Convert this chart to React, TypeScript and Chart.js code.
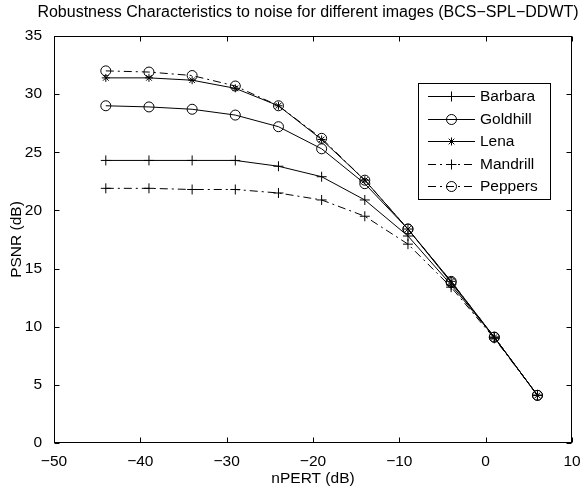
import React, { useEffect, useRef } from "react";
import { Chart, registerables } from "chart.js";

Chart.register(...registerables);

const X_VALUES = [-44, -39, -34, -29, -24, -19, -14, -9, -4, 1, 6];
const SERIES_NAMES = ["Barbara", "Goldhill", "Lena", "Mandrill", "Peppers"];
const BARBARA = [24.3, 24.3, 24.3, 24.3, 23.8, 22.9, 20.9, 17.8, 13.6, 9.1, 4.1];
const GOLDHILL = [29.0, 28.9, 28.7, 28.2, 27.2, 25.3, 22.3, 18.4, 13.8, 9.1, 4.1];
const LENA = [31.4, 31.4, 31.2, 30.5, 29.0, 26.1, 22.6, 18.4, 13.9, 9.1, 4.1];
const MANDRILL = [21.9, 21.9, 21.8, 21.8, 21.5, 20.9, 19.5, 17.1, 13.4, 9.0, 4.1];
const PEPPERS = [32.0, 31.9, 31.6, 30.7, 29.0, 26.2, 22.6, 18.4, 13.9, 9.1, 4.1];
const X_TICKS = [-50, -40, -30, -20, -10, 0, 10];
const Y_TICKS = [0, 5, 10, 15, 20, 25, 30, 35];

const TITLE = "Robustness Characteristics to noise for different images (BCS\u2212SPL\u2212DDWT)";
const X_TITLE = "nPERT (dB)";
const Y_TITLE = "PSNR (dB)";

const FONT_FAMILY = "'Liberation Sans', Arial, Helvetica, sans-serif";
const FONT_SIZE = 15.5;
const TITLE_SIZE = 16;
const DASH_DOT = [8, 4, 2, 4];

const STYLES = [
  { marker: "cross", radius: 5, dash: [] as number[] },
  { marker: "circle", radius: 5, dash: [] as number[] },
  { marker: "star", radius: 4, dash: [] as number[] },
  { marker: "cross", radius: 5, dash: DASH_DOT },
  { marker: "circle", radius: 5, dash: DASH_DOT },
];

const SERIES = [BARBARA, GOLDHILL, LENA, MANDRILL, PEPPERS];

function drawMarker(ctx: CanvasRenderingContext2D, style: string, x: number, y: number, r: number) {
  ctx.beginPath();
  if (style === "circle") {
    ctx.arc(x, y, r, 0, Math.PI * 2);
  } else if (style === "cross") {
    ctx.moveTo(x - r, y);
    ctx.lineTo(x + r, y);
    ctx.moveTo(x, y - r);
    ctx.lineTo(x, y + r);
  } else if (style === "star") {
    ctx.moveTo(x - r, y);
    ctx.lineTo(x + r, y);
    ctx.moveTo(x, y - r);
    ctx.lineTo(x, y + r);
    const d = r * Math.SQRT1_2;
    ctx.moveTo(x - d, y - d);
    ctx.lineTo(x + d, y + d);
    ctx.moveTo(x - d, y + d);
    ctx.lineTo(x + d, y - d);
  }
  ctx.stroke();
}

const framePlugin = {
  id: "matlabFrame",
  afterDraw(chart: any) {
    const ctx: CanvasRenderingContext2D = chart.ctx;
    const a = chart.chartArea;
    const xs = chart.scales.x;
    const ys = chart.scales.y;
    ctx.save();
    ctx.strokeStyle = "#000";
    ctx.lineWidth = 1;
    ctx.setLineDash([]);
    const L = Math.round(a.left) + 0.5;
    const R = Math.round(a.right) - 0.5;
    const T = Math.round(a.top) + 0.5;
    const B = Math.round(a.bottom) - 0.5;
    ctx.strokeRect(L, T, R - L, B - T);
    const tl = 5;
    ctx.beginPath();
    X_TICKS.forEach((v) => {
      const px = Math.round(xs.getPixelForValue(v)) + 0.5;
      ctx.moveTo(px, B);
      ctx.lineTo(px, B - tl);
      ctx.moveTo(px, T);
      ctx.lineTo(px, T + tl);
    });
    Y_TICKS.forEach((v) => {
      const py = Math.round(ys.getPixelForValue(v)) + 0.5;
      ctx.moveTo(L, py);
      ctx.lineTo(L + tl, py);
      ctx.moveTo(R, py);
      ctx.lineTo(R - tl, py);
    });
    ctx.stroke();

    // titles
    ctx.fillStyle = "#000";
    ctx.textAlign = "center";
    ctx.textBaseline = "middle";
    const cx = (a.left + a.right) / 2;
    ctx.font = `${TITLE_SIZE}px ${FONT_FAMILY}`;
    ctx.fillText(TITLE, cx - 5, 13);
    ctx.font = `${FONT_SIZE}px ${FONT_FAMILY}`;
    ctx.fillText(X_TITLE, cx, 479);
    ctx.save();
    ctx.translate(17, (a.top + a.bottom) / 2);
    ctx.rotate(-Math.PI / 2);
    ctx.fillText(Y_TITLE, 0, 0);
    ctx.restore();

    // legend
    const lx = 418.5, ly = 83.5, lw = 132, lh = 116;
    ctx.fillStyle = "#fff";
    ctx.fillRect(lx, ly, lw, lh);
    ctx.strokeRect(lx, ly, lw, lh);
    ctx.textAlign = "left";
    ctx.fillStyle = "#000";
    SERIES_NAMES.forEach((name, i) => {
      const y = Math.round(96 + i * 22.6) + 0.5;
      const st = STYLES[i];
      ctx.setLineDash(st.dash);
      ctx.beginPath();
      ctx.moveTo(428, y);
      ctx.lineTo(475, y);
      ctx.stroke();
      ctx.setLineDash([]);
      drawMarker(ctx, st.marker, 451.5, y, st.radius);
      ctx.fillText(name, 480, y);
    });
    ctx.restore();
  },
};

export default function App() {
  const ref = useRef<HTMLCanvasElement | null>(null);
  useEffect(() => {
    if (!ref.current) return;
    Chart.defaults.color = "#000";
    Chart.defaults.font.family = FONT_FAMILY;
    const datasets = SERIES_NAMES.map((name, i) => ({
      label: name,
      data: X_VALUES.map((x, j) => ({ x, y: SERIES[i][j] })),
      borderColor: "#000",
      borderWidth: 1,
      borderDash: STYLES[i].dash,
      pointStyle: STYLES[i].marker,
      pointRadius: STYLES[i].radius,
      pointBorderWidth: 1,
      pointBorderColor: "#000",
      pointBackgroundColor: "rgba(0,0,0,0)",
      fill: false,
      tension: 0,
    }));
    const chart = new Chart(ref.current, {
      type: "line",
      data: { datasets },
      options: {
        animation: false,
        responsive: false,
        devicePixelRatio: 1,
        layout: { padding: { top: 36, right: 11, left: 0, bottom: 0 } },
        plugins: { legend: { display: false }, title: { display: false }, tooltip: { enabled: false } },
        scales: {
          x: {
            type: "linear",
            min: -50,
            max: 10,
            grid: { display: false },
            border: { display: false },
            afterFit: (s: any) => { s.height = 46; },
            afterBuildTicks: (s: any) => { s.ticks = X_TICKS.map((v) => ({ value: v })); },
            ticks: {
              padding: 1,
              font: { size: FONT_SIZE },
              maxRotation: 0,
              autoSkip: false,
              callback: (v: any) => String(v).replace("-", "\u2212"),
            },
          },
          y: {
            type: "linear",
            min: 0,
            max: 35,
            grid: { display: false },
            border: { display: false },
            afterFit: (s: any) => { s.width = 54; },
            afterBuildTicks: (s: any) => { s.ticks = Y_TICKS.map((v) => ({ value: v })); },
            ticks: {
              padding: 4,
              font: { size: FONT_SIZE },
              autoSkip: false,
              callback: (v: any) => String(v),
            },
          },
        },
      },
      plugins: [framePlugin],
    } as any);
    return () => chart.destroy();
  }, []);
  return (
    <div style={{ position: "absolute", left: 0, top: 0, width: 583, height: 489, background: "#fff" }}>
      <canvas ref={ref} width={583} height={489} style={{ display: "block", width: 583, height: 489 }} />
    </div>
  );
}
